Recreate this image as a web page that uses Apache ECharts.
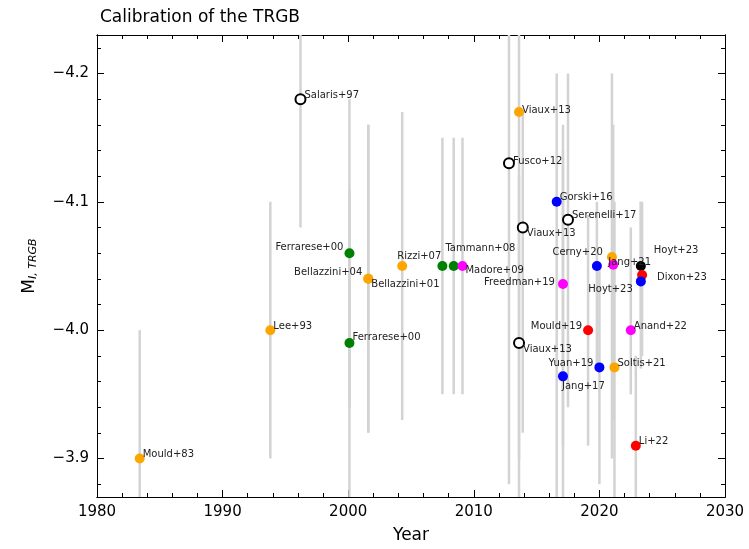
<!DOCTYPE html>
<html><head><meta charset="utf-8">
<script src="https://cdn.jsdelivr.net/npm/echarts@6/dist/echarts.min.js"></script>
<style>html,body{margin:0;background:#fff}#main{width:749px;height:549px}</style>
</head><body><div id="main"></div>
<script>
// 数据：名称、年份、星等、误差上下限、颜色
var names = ['Mould+83','Lee+93','Salaris+97','Ferrarese+00','Ferrarese+00','Bellazzini+01','Bellazzini+04','Rizzi+07','Tammann+08','','Madore+09',
  'Viaux+13','Fusco+12','Viaux+13','Viaux+13','Gorski+16','Serenelli+17','Cerny+20','','Jang+21','Hoyt+23','Dixon+23','Hoyt+23',
  'Freedman+19','Mould+19','Anand+22','Yuan+19','Soltis+21','Jang+17','Li+22'];
var years = [1983.4,1993.8,1996.2,2000.1,2000.1,2001.6,2001.6,2004.3,2007.5,2008.4,2009.1,
  2013.6,2012.8,2013.9,2013.6,2016.6,2017.5,2019.8,2021.0,2021.1,2023.3,2023.4,2023.3,
  2017.1,2019.1,2022.5,2020.0,2021.2,2017.1,2022.9];
var mags = [-3.90,-4.00,-4.18,-4.06,-3.99,-4.04,-4.04,-4.05,-4.05,-4.05,-4.05,
  -4.17,-4.13,-4.08,-3.99,-4.10,-4.086,-4.05,-4.057,-4.051,-4.05,-4.043,-4.038,
  -4.036,-4.00,-4.00,-3.971,-3.971,-3.964,-3.91];
var errLo = [-4.00,-4.10,-4.28,-4.18,-4.11,-4.16,-4.16,-4.17,-4.15,-4.15,-4.15,
  -4.30,-4.30,-4.17,-4.12,-4.20,-4.20,-4.10,-4.20,-4.16,-4.10,-4.10,-4.10,
  -4.16,-4.09,-4.08,-4.05,-4.10,-4.14,-3.98];
var errHi = [-3.80,-3.90,-4.08,-3.94,-3.87,-3.92,-3.92,-3.93,-3.95,-3.95,-3.95,
  -3.90,-3.88,-3.92,-3.80,-3.85,-3.94,-3.97,-3.90,-3.93,-3.97,-3.98,-4.00,
  -3.91,-3.91,-3.95,-3.88,-3.86,-3.80,-3.80];
var colors = ['orange','orange','open','green','green','orange','orange','orange','green','green','magenta',
  'orange','open','open','open','blue','open','blue','orange','magenta','black','red','blue',
  'magenta','red','magenta','blue','orange','blue','red'];
var labelLeft = [false,false,false,true,false,false,true,false,false,false,false,
  false,false,false,false,false,false,true,false,false,false,false,true,
  true,true,false,true,false,false,false];
var labelOffset = [[0,-4],[0,-4],[0,-4],[0,-6],[0,-6],[0,6],[0,-6],[-8,-10],[0,-18],[0,0],[0,4],
  [0,-2],[0,-2],[0,6],[0,6],[0,-4],[0,-4],[12,-14],[0,0],[-8,-2],[10,-16],[12,2],[-2,8],
  [-2,-2],[0,-4],[0,-4],[0,-4],[0,-4],[-4,10],[0,-4]];

var yMajor = [-4.2, -4.1, -4.0, -3.9];
var yMinor = [], xMinor = [];
for (var v = -4.22; v <= -3.87; v += 0.02) yMinor.push(+v.toFixed(2));
for (var y = 1980; y <= 2030; y += 2) xMinor.push(y);

var myChart = echarts.init(document.getElementById('main'));
var fmt = function(v) { return v.toFixed(1).replace('-', '\u2212'); };
var fontFam = 'DejaVu Sans';
var colorMap = { orange: '#ffa500', green: '#008000', magenta: '#ff00ff', blue: '#0000ff', red: '#ff0000', black: '#000' };

var pts = years.map(function(yr, i) {
  var c = colors[i];
  return {
    value: [yr, mags[i]],
    name: names[i],
    itemStyle: c === 'open'
      ? { color: '#fff', borderColor: '#000', borderWidth: 2, opacity: 1 }
      : { color: colorMap[c], opacity: 1 },
    label: {
      position: labelLeft[i] ? 'left' : 'right',
      distance: labelLeft[i] ? 1 : -2,
      offset: labelOffset[i]
    }
  };
});

function yAx(pos, ticks, len, showLabel, extra) {
  return Object.assign({
    type: 'value', inverse: true, min: -4.23, max: -3.87, position: pos,
    axisLine: { show: true, lineStyle: { color: '#000' } },
    axisTick: { inside: true, length: len, customValues: ticks, lineStyle: { color: '#000' } },
    axisLabel: showLabel ? { fontSize: 15, color: '#000', fontFamily: fontFam, customValues: yMajor, formatter: fmt } : { show: false },
    splitLine: { show: false }
  }, extra || {});
}
function xAx(pos, ticks, len, showLabel, extra) {
  return Object.assign({
    type: 'value', min: 1980, max: 2030, position: pos,
    axisLine: { show: true, lineStyle: { color: '#000' } },
    axisTick: { inside: true, length: len, customValues: ticks, lineStyle: { color: '#000' } },
    axisLabel: showLabel ? { fontSize: 15, color: '#000', fontFamily: fontFam, margin: 8, customValues: [1980,1990,2000,2010,2020,2030], formatter: function(v) { return String(v); } } : { show: false },
    splitLine: { show: false }
  }, extra || {});
}

var option = {
  backgroundColor: '#fff',
  animation: false,
  title: { text: 'Calibration of the TRGB', left: 95, top: 4, textStyle: { fontSize: 17, fontWeight: 'normal', color: '#000', fontFamily: fontFam } },
  grid: { left: 97, right: 24, top: 35, bottom: 52 },
  xAxis: [
    xAx('bottom', [1980,1990,2000,2010,2020,2030], 7, true, {
      name: 'Year', nameLocation: 'middle', nameGap: 30,
      nameTextStyle: { fontSize: 17, color: '#000', fontFamily: fontFam }
    }),
    xAx('top', [1980,1990,2000,2010,2020,2030], 7, false),
    xAx('bottom', xMinor, 4, false),
    xAx('top', xMinor, 4, false)
  ],
  yAxis: [
    yAx('left', yMajor, 7, true, {
      name: '{m|M}{s|I, TRGB}', nameLocation: 'middle', nameGap: 58, nameRotate: 90,
      nameTextStyle: { rich: { m: { fontSize: 17, fontFamily: fontFam, color: '#000' }, s: { fontSize: 11, fontStyle: 'italic', fontFamily: fontFam, color: '#000', verticalAlign: 'bottom', padding: [8, 0, 0, 0] } } }
    }),
    yAx('right', yMajor, 7, false),
    yAx('left', yMinor, 4, false),
    yAx('right', yMinor, 4, false)
  ],
  series: [{
    type: 'custom',
    data: years.map(function(yr, i) { return [yr, errLo[i], errHi[i]]; }),
    renderItem: function(params, api) {
      var a = api.coord([api.value(0), api.value(1)]);
      var b = api.coord([api.value(0), api.value(2)]);
      var cs = params.coordSys;
      return {
        type: 'line',
        shape: { x1: a[0], y1: Math.max(a[1], cs.y), x2: b[0], y2: Math.min(b[1], cs.y + cs.height) },
        style: { stroke: '#d3d3d3', lineWidth: 2.5 }
      };
    },
    z: 1
  }, {
    type: 'scatter',
    symbolSize: 10,
    data: pts,
    z: 3,
    label: { show: true, formatter: '{b}', fontSize: 10, color: '#222', fontFamily: fontFam }
  }]
};
myChart.setOption(option);
</script>
</body></html>
